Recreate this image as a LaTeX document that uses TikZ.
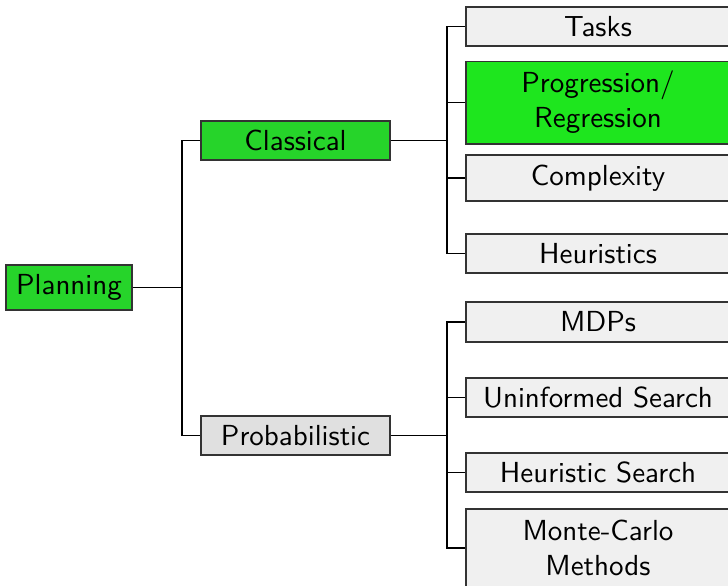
\documentclass[tikz,border=0pt]{standalone}
\usepackage{tikz}

\definecolor{rootgreen}{HTML}{26D42A}
\definecolor{activegreen}{HTML}{1EE61E}
\definecolor{midgray}{HTML}{E0E0E0}
\definecolor{leafgray}{HTML}{F0F0F0}

\begin{document}
\begin{tikzpicture}[x=0.35pt, y=-0.35pt,
    topic/.style ={draw=black!80, rectangle, inner sep = 0pt, align=center,
                   font=\sffamily\fontsize{10.15}{12.3}\selectfont},
    root/.style  ={topic, fill=rootgreen, minimum width=44.1pt, minimum height=15.75pt},
    branch/.style={topic, minimum width=66.15pt, minimum height=13.65pt},
    leaf/.style  ={topic, fill=leafgray, minimum width=92.4pt, minimum height=13.65pt}]
   \useasboundingbox (0,0) rectangle (728,585);

   \node[root] (planning) at (69,287.5) {Planning};

   \node[branch, fill=rootgreen] (classical)     at (295.5,140.5) {Classical};
   \node[branch, fill=midgray]   (probabilistic) at (295.5,435.5) {Probabilistic};

   \node[leaf] (tasks)       at (598,26.5)  {Tasks};
   \node[leaf, fill=activegreen, minimum height=29pt] (progression) at (598,102.5) {Progression/\\Regression};
   \node[leaf, minimum height=16.1pt] (complexity)  at (598,178)   {Complexity};
   \node[leaf] (heuristics)  at (598,253.5) {Heuristics};

   \node[leaf, minimum height=14pt] (mdps) at (598,322)   {MDPs};
   \node[leaf] (uninformed)  at (598,397.5) {Uninformed Search};
   \node[leaf] (heursearch)  at (598,472.5) {Heuristic Search};
   \node[leaf, minimum height=27.3pt] (montecarlo) at (598,548) {Monte-Carlo\\Methods};

   \coordinate (f0) at (182,287.5);
   \coordinate (f1) at (447,140.5);
   \coordinate (f2) at (447,435.5);

   \draw (planning) -- (f0);
   \draw (f0) |- (classical);
   \draw (f0) |- (probabilistic);

   \draw (classical) -- (f1);
   \draw (f1) |- (tasks);
   \draw (f1) |- (progression);
   \draw (f1) |- (complexity);
   \draw (f1) |- (heuristics);

   \draw (probabilistic) -- (f2);
   \draw (f2) |- (mdps);
   \draw (f2) |- (uninformed);
   \draw (f2) |- (heursearch);
   \draw (f2) |- (montecarlo);
 \end{tikzpicture}
\end{document}
